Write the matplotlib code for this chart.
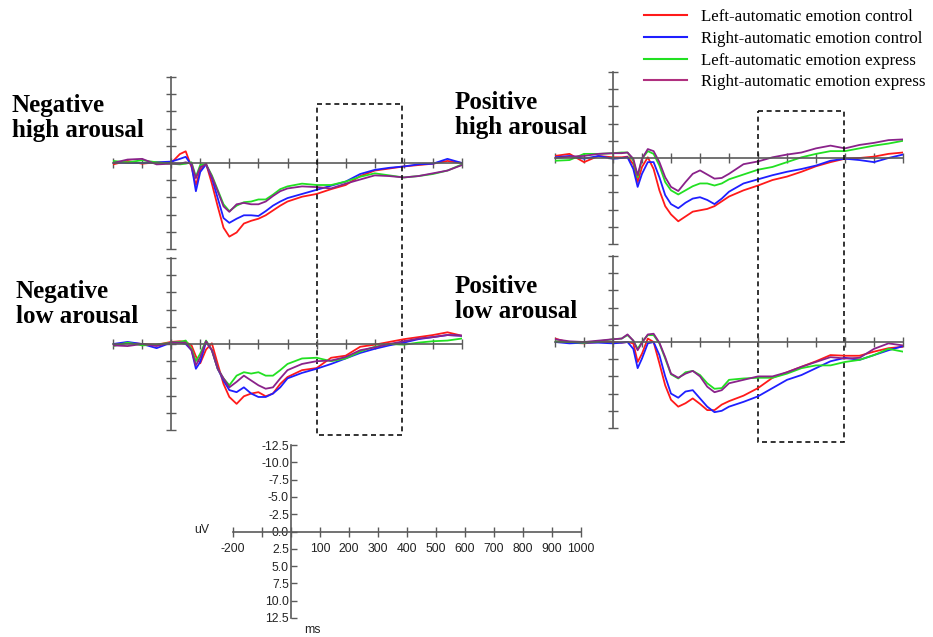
import numpy as np
import matplotlib
matplotlib.use('Agg')
import matplotlib.pyplot as plt
from matplotlib.patches import Rectangle
from matplotlib.lines import Line2D

# tiempos de muestreo (ms)
tiempos = [-200, -150, -100, -50, 0, 30, 50, 70, 85, 100, 120, 140, 160, 180, 200,
           225, 250, 275, 300, 325, 350, 375, 400, 450, 500, 550, 600, 650, 700,
           750, 800, 850, 900, 950, 1000]

# Negative high arousal (uV)
nh_left_ctrl = [0.2, -0.3, 0.1, -0.1, 0.0, -1.3, -1.7, 0.6, 3.2, 1.0, 0.1, 3.0, 6.3, 9.4, 10.7,
                10.1, 8.8, 8.4, 8.1, 7.6, 6.9, 6.2, 5.6, 4.9, 4.5, 3.8, 3.2, 1.9, 1.1,
                0.8, 0.5, 0.3, 0.1, -0.3, 0.0]
nh_right_ctrl = [-0.1, 0.0, 0.0, -0.1, -0.2, -0.6, -0.9, 0.3, 4.1, 1.3, 0.2, 2.2, 5.1, 8.0, 8.7,
                 8.1, 7.6, 7.6, 7.7, 7.0, 6.2, 5.6, 5.1, 4.5, 3.9, 3.3, 2.7, 1.6, 1.0,
                 0.7, 0.5, 0.2, 0.1, -0.6, 0.0]
nh_left_expr = [-0.3, -0.1, -0.4, -0.1, 0.1, 0.2, 0.1, -0.1, 2.0, 0.3, 0.2, 1.8, 3.9, 6.0, 7.0,
                6.2, 5.7, 5.6, 5.3, 5.3, 4.6, 3.8, 3.4, 3.0, 3.2, 3.2, 2.7, 2.0, 1.5,
                1.8, 2.1, 1.9, 1.6, 1.1, 0.2]
nh_right_expr = [0.0, -0.5, -0.6, 0.2, 0.1, 0.1, -0.1, 0.1, 2.2, 0.6, 0.2, 2.0, 4.1, 6.3, 7.1,
                 6.0, 5.8, 6.0, 6.0, 5.6, 4.8, 4.1, 3.7, 3.4, 3.5, 3.7, 3.0, 2.4, 1.8,
                 1.9, 2.1, 1.9, 1.5, 1.1, 0.3]

# Positive high arousal
ph_left_ctrl = [-0.3, -0.6, 0.6, -0.3, -0.1, -0.1, -0.2, 0.9, 3.5, 1.3, -0.1, 1.6, 4.7, 7.0, 8.2,
                9.2, 8.5, 7.8, 7.6, 7.4, 7.0, 6.3, 5.6, 4.7, 4.0, 3.2, 2.7, 2.0, 1.2,
                0.6, 0.1, 0.0, -0.2, -0.6, -0.8]
ph_right_ctrl = [-0.1, -0.3, 0.1, -0.3, 0.1, 0.0, -0.1, 1.6, 4.2, 2.3, 0.6, 0.6, 2.8, 5.4, 6.7,
                 7.3, 6.5, 5.9, 5.7, 6.1, 6.7, 5.9, 4.9, 3.7, 3.1, 2.5, 2.0, 1.6, 1.1,
                 0.4, 0.1, 0.3, 0.6, 0.0, -0.5]
ph_left_expr = [0.4, 0.3, -0.6, -0.6, -0.7, -0.8, -0.8, 0.4, 2.8, 0.1, -1.0, -0.6, 1.1, 3.5, 4.7,
                5.3, 4.7, 4.1, 3.7, 3.7, 4.0, 3.7, 3.1, 2.4, 1.7, 1.3, 0.6, -0.1, -0.6,
                -1.0, -1.0, -1.4, -1.8, -2.1, -2.5]
ph_right_expr = [0.0, -0.2, -0.3, -0.6, -0.7, -0.7, -0.8, 0.1, 2.5, 0.1, -1.3, -1.0, 0.6, 2.8, 4.2,
                 4.8, 3.5, 2.3, 1.8, 2.4, 3.0, 2.9, 2.3, 0.9, 0.5, -0.1, -0.5, -0.8, -1.4,
                 -1.8, -1.4, -1.9, -2.2, -2.6, -2.7]

# Negative low arousal
nl_left_ctrl = [0.2, -0.2, 0.0, 0.1, -0.3, -0.4, -0.3, 0.2, 1.8, 2.8, 0.8, -0.1, 2.9, 5.8, 7.7,
                8.7, 7.6, 7.2, 7.0, 7.6, 7.2, 5.8, 4.8, 3.8, 3.5, 2.0, 1.7, 0.4, 0.1,
                -0.3, -0.7, -1.0, -1.3, -1.7, -1.2]
nl_right_ctrl = [0.0, -0.3, 0.0, 0.6, -0.2, -0.2, 0.0, 0.9, 3.6, 2.6, -0.3, 0.9, 3.6, 5.3, 6.7,
                 7.0, 6.3, 7.2, 7.7, 7.7, 7.2, 6.3, 5.0, 4.2, 3.6, 2.9, 2.1, 1.3, 0.7,
                 0.2, -0.2, -0.7, -1.0, -1.3, -1.2]
nl_left_expr = [0.3, -0.2, 0.2, 0.1, -0.2, -0.3, -0.5, 0.7, 2.5, 1.4, -0.5, 0.9, 3.6, 5.0, 6.0,
                4.6, 4.1, 4.3, 4.1, 4.6, 4.6, 3.8, 2.9, 2.1, 2.0, 2.5, 2.1, 1.1, 0.4,
                0.0, 0.1, -0.2, -0.4, -0.5, -0.8]
nl_right_expr = [0.2, 0.3, 0.0, 0.3, -0.2, -0.2, -0.2, 0.9, 3.1, 1.9, -0.4, 0.9, 3.6, 5.0, 6.3,
                 5.5, 4.6, 5.3, 6.0, 6.5, 6.3, 5.0, 3.8, 2.9, 2.5, 2.4, 1.9, 0.9, 0.5,
                 0.0, -0.4, -0.8, -1.0, -1.3, -1.2]

# Positive low arousal
pl_left_ctrl = [-0.5, 0.1, 0.2, 0.0, 0.0, 0.1, 0.0, 0.2, 2.9, 1.7, -0.5, 0.0, 3.1, 6.3, 8.4,
                9.4, 8.9, 8.2, 9.0, 9.9, 9.9, 9.1, 8.6, 7.8, 6.7, 5.2, 4.4, 3.6, 2.8,
                1.9, 2.0, 2.0, 1.4, 0.9, 0.7]
pl_right_ctrl = [0.0, 0.2, 0.1, 0.1, 0.2, 0.1, 0.0, 1.0, 3.8, 2.4, 0.2, 0.0, 1.9, 5.0, 7.5,
                 8.1, 7.2, 7.0, 8.2, 9.4, 10.2, 10.0, 9.4, 8.7, 7.9, 6.7, 5.5, 4.8, 3.8,
                 2.8, 2.3, 2.6, 1.9, 1.2, 0.6]
pl_left_expr = [-0.1, 0.0, 0.1, -0.1, -0.4, -0.5, -1.0, -0.2, 1.0, 0.0, -1.0, -1.0, 0.2, 2.4, 4.7,
                5.3, 4.4, 4.2, 4.8, 6.0, 6.8, 6.7, 5.5, 5.3, 5.2, 5.2, 4.6, 3.8, 3.4,
                3.4, 2.9, 2.6, 1.9, 1.0, 1.4]
pl_right_expr = [-0.4, -0.1, 0.0, -0.2, -0.4, -0.5, -1.1, -0.2, 1.2, 0.1, -1.1, -1.2, 0.1, 2.2, 4.6,
                 5.2, 4.6, 4.2, 5.0, 6.5, 7.3, 7.0, 6.0, 5.5, 5.0, 5.0, 4.4, 3.6, 2.9,
                 2.2, 2.4, 2.3, 1.0, 0.2, 0.5]

condiciones = ['Left-automatic emotion control', 'Right-automatic emotion control',
               'Left-automatic emotion express', 'Right-automatic emotion express']
colores = ['#ff1a1a', '#1f1fff', '#22e022', '#8a228a']

# ventana de analisis (ms)
ventana = (500, 795)

x_ticks = list(range(-200, 1001, 100))
y_ticks = [-12.5, -10.0, -7.5, -5.0, -2.5, 0.0, 2.5, 5.0, 7.5, 10.0, 12.5]

gris = '#5a5a5a'


def preparar_ejes(ax, etiquetas=False):
    ax.set_xlim(-200, 1000)
    ax.set_ylim(12.5, -12.5)
    ax.patch.set_visible(False)
    for lado in ['top', 'right']:
        ax.spines[lado].set_visible(False)
    ax.spines['left'].set_position(('data', 0))
    ax.spines['bottom'].set_position(('data', 0))
    for lado in ['left', 'bottom']:
        ax.spines[lado].set_color(gris)
        ax.spines[lado].set_linewidth(1.2)
    ax.set_xticks(x_ticks)
    ax.set_yticks(y_ticks)
    ax.tick_params(axis='x', direction='inout', length=7, width=1.0, color=gris)
    if etiquetas:
        ax.tick_params(axis='y', direction='in', length=4, width=1.0, color=gris)
    else:
        ax.tick_params(axis='y', direction='inout', length=7, width=1.0, color=gris)
        ax.tick_params(labelbottom=False, labelleft=False)


fig = plt.figure(figsize=(9.33, 6.37), dpi=100)

paneles = [
    ([113 / 933, 1 - 249 / 637, 349 / 933, 172 / 637],
     [nh_left_ctrl, nh_right_ctrl, nh_left_expr, nh_right_expr]),
    ([555 / 933, 1 - 244 / 637, 348 / 933, 172 / 637],
     [ph_left_ctrl, ph_right_ctrl, ph_left_expr, ph_right_expr]),
    ([113 / 933, 1 - 430 / 637, 349 / 933, 172 / 637],
     [nl_left_ctrl, nl_right_ctrl, nl_left_expr, nl_right_expr]),
    ([555 / 933, 1 - 428 / 637, 348 / 933, 172 / 637],
     [pl_left_ctrl, pl_right_ctrl, pl_left_expr, pl_right_expr]),
]

ejes = []
for pos, series in paneles:
    ax = fig.add_axes(pos)
    preparar_ejes(ax)
    for valores, color in zip(series, colores):
        ax.plot(tiempos, valores, color=color, lw=1.3)
    ejes.append(ax)

# recuadros punteados que cruzan ambas filas
for ax, arriba, alto in [(ejes[0], -8.6, 48.1), (ejes[1], -6.8, 48.1)]:
    rect = Rectangle((ventana[0], arriba), ventana[1] - ventana[0], alto,
                     fill=False, ec='#111111', lw=1.2, ls=(0, (3, 2.2)),
                     transform=ax.transData, clip_on=False, zorder=5)
    ax.add_patch(rect)

titulo = dict(fontfamily='Liberation Serif', fontweight='bold', fontsize=18,
              ha='left', va='center', linespacing=1.12)
fig.text(12 / 933, 1 - 118 / 637, 'Negative\nhigh arousal', **titulo)
fig.text(455 / 933, 1 - 115 / 637, 'Positive\nhigh arousal', **titulo)
fig.text(16 / 933, 1 - 304 / 637, 'Negative\nlow arousal', **titulo)
fig.text(455 / 933, 1 - 299 / 637, 'Positive\nlow arousal', **titulo)

# eje de escala
esc = fig.add_axes([233 / 933, 1 - 618 / 637, 348 / 933, 173 / 637])
preparar_ejes(esc, etiquetas=True)
esc.set_xticklabels([str(v) if v not in (-100, 0) else '' for v in x_ticks])
esc.set_yticklabels(['%.1f' % v for v in y_ticks])
esc.tick_params(axis='x', pad=5, labelsize=8.8, labelcolor='#222222')
esc.tick_params(axis='y', pad=1.5, labelsize=8.8, labelcolor='#222222')
for lab in esc.get_xticklabels() + esc.get_yticklabels():
    lab.set_fontfamily('Liberation Sans')
fig.text(202 / 933, 1 - 530 / 637, 'uV', fontfamily='Liberation Sans', fontsize=8.8,
         ha='center', va='center', color='#222222')
fig.text(312 / 933, 1 - 630 / 637, 'ms', fontfamily='Liberation Sans', fontsize=8.8,
         ha='center', va='center', color='#222222')

manejadores = [Line2D([], [], color=c, lw=1.5) for c in colores[:3]]
manejadores.append(Line2D([], [], color='#b0307f', lw=1.5))
fig.legend(manejadores, condiciones, loc='upper left',
           bbox_to_anchor=(644 / 933, 1 - 9 / 637), frameon=False,
           handlelength=2.55, handletextpad=0.8, labelspacing=0.34,
           borderaxespad=0, borderpad=0,
           prop={'family': 'Liberation Serif', 'size': 12.2})

fig.savefig('out.png', dpi=100)
